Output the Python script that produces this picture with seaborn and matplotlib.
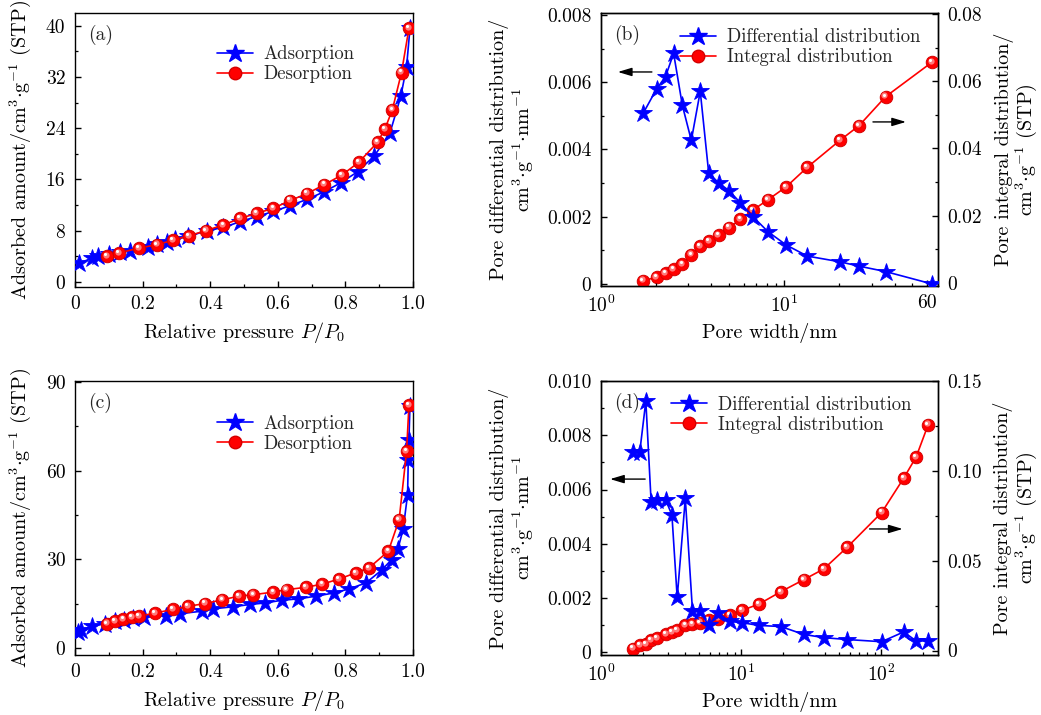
import matplotlib
matplotlib.use("Agg")
import numpy as np
import pandas as pd
import matplotlib.pyplot as plt
import seaborn as sns
from matplotlib.lines import Line2D
from matplotlib.ticker import MultipleLocator, FixedLocator, NullFormatter
from matplotlib.transforms import offset_copy

# ---------------- data ----------------
# (a) N2 isotherm, sample 1
a_ads_p = [0.013, 0.049, 0.069, 0.100, 0.133, 0.163, 0.217, 0.244, 0.271, 0.296,
           0.335, 0.390, 0.439, 0.488, 0.537, 0.587, 0.636, 0.687, 0.738, 0.787,
           0.836, 0.886, 0.932, 0.964, 0.981, 0.991]
a_ads_v = [2.9, 3.7, 4.1, 4.4, 4.6, 4.9, 5.5, 5.9, 6.3, 6.7,
           7.1, 8.0, 8.5, 9.4, 10.2, 11.0, 11.9, 12.9, 14.1, 15.5,
           17.2, 19.7, 23.3, 29.0, 33.6, 39.6]
a_des_p = [0.094, 0.130, 0.190, 0.242, 0.289, 0.337, 0.387, 0.439, 0.488, 0.537,
           0.587, 0.636, 0.687, 0.738, 0.790, 0.840, 0.895, 0.917, 0.939, 0.966, 0.988]
a_des_v = [4.0, 4.5, 5.3, 5.8, 6.5, 7.2, 8.0, 8.9, 9.9, 10.7,
           11.5, 12.7, 13.8, 15.2, 16.7, 18.7, 21.8, 23.9, 26.9, 32.7, 39.6]

# (c) N2 isotherm, sample 2
c_ads_p = [0.010, 0.017, 0.051, 0.089, 0.118, 0.146, 0.171, 0.205, 0.269, 0.311,
           0.375, 0.407, 0.466, 0.518, 0.562, 0.611, 0.661, 0.713, 0.766, 0.812,
           0.861, 0.907, 0.937, 0.955, 0.971, 0.984, 0.986, 0.988, 0.991]
c_ads_v = [5.3, 6.0, 7.3, 8.2, 9.0, 9.6, 10.1, 10.4, 10.9, 11.6,
           12.4, 13.2, 13.9, 14.7, 15.2, 16.1, 16.6, 17.5, 18.6, 20.0,
           22.0, 26.3, 29.9, 33.3, 40.2, 51.9, 63.7, 70.5, 81.7]
c_des_p = [0.094, 0.118, 0.143, 0.168, 0.189, 0.237, 0.289, 0.335, 0.385, 0.436,
           0.485, 0.528, 0.587, 0.626, 0.683, 0.732, 0.781, 0.831, 0.870, 0.927,
           0.959, 0.981, 0.988]
c_des_v = [8.2, 9.0, 9.8, 10.4, 10.7, 11.8, 13.0, 14.1, 15.0, 16.3,
           17.5, 18.0, 18.9, 19.7, 20.5, 21.6, 23.3, 25.4, 27.1, 32.7,
           43.4, 66.5, 82.1]

# (b) pore size distribution, sample 1
b_width = [1.70, 2.01, 2.25, 2.49, 2.78, 3.11, 3.48, 3.87, 4.38, 5.01,
           5.77, 6.75, 8.17, 10.25, 13.35, 20.1, 25.6, 35.7, 64.1]
b_diff = [0.00508, 0.00580, 0.00617, 0.00686, 0.00531, 0.00427, 0.00573, 0.00330,
          0.00301, 0.00277, 0.00241, 0.00200, 0.00155, 0.00116, 0.00083, 0.00066,
          0.00053, 0.00037, 0.00000]
b_int = [0.0007, 0.0017, 0.0029, 0.0041, 0.0056, 0.0084, 0.0110, 0.0125, 0.0142,
         0.0165, 0.0189, 0.0217, 0.0248, 0.0286, 0.0344, 0.0424, 0.0468, 0.0554, 0.0657]

# (d) pore size distribution, sample 2
d_width = [1.69, 1.89, 2.09, 2.28, 2.51, 2.90, 3.21, 3.50, 4.00, 4.50,
           5.10, 5.86, 6.86, 8.30, 10.2, 13.4, 19.2, 28.0, 39.0, 57.3,
           101.0, 145.0, 178.0, 217.0]
d_diff = [0.00737, 0.00737, 0.00926, 0.00555, 0.00561, 0.00561, 0.00506, 0.00202,
          0.00567, 0.00154, 0.00151, 0.00099, 0.00144, 0.00114, 0.00109, 0.00099,
          0.00095, 0.00066, 0.00054, 0.00047, 0.00039, 0.00075, 0.00042, 0.00042]
d_int = [0.0011, 0.0028, 0.0037, 0.0056, 0.0071, 0.0090, 0.0103, 0.0112, 0.0140,
         0.0146, 0.0155, 0.0168, 0.0178, 0.0198, 0.0224, 0.0258, 0.0327, 0.0394,
         0.0454, 0.0575, 0.0768, 0.0959, 0.1077, 0.1257]

# ---------------- style ----------------
sns.set_theme(style="ticks")
plt.rcParams.update({
    "font.family": ["cmr10", "DejaVu Serif"],
    "mathtext.fontset": "cm",
    "axes.formatter.use_mathtext": True,
    "font.size": 14,
    "axes.linewidth": 1.0,
    "axes.edgecolor": "black",
    "axes.labelcolor": "black",
    "xtick.color": "black",
    "ytick.color": "black",
    "xtick.direction": "in",
    "ytick.direction": "in",
    "xtick.major.size": 4,
    "ytick.major.size": 4,
    "xtick.minor.size": 2.5,
    "ytick.minor.size": 2.5,
    "xtick.major.width": 1.0,
    "ytick.major.width": 1.0,
    "xtick.minor.width": 0.9,
    "ytick.minor.width": 0.9,
    "xtick.major.pad": 6,
    "ytick.major.pad": 7,
    "xtick.labelsize": 14,
    "ytick.labelsize": 14,
    "axes.labelsize": 14.5,
    "legend.fontsize": 13.5,
})

BLUE = "#0000ff"
RED = "#ff0000"

fig = plt.figure(figsize=(10.41, 7.15), dpi=100)
W, H = 1041, 715


def add_axes(left, top, right, bottom):
    return fig.add_axes([left / W, 1 - bottom / H, (right - left) / W, (bottom - top) / H])


def star_line(ax, x, y, label):
    sns.lineplot(x=x, y=y, ax=ax, color=BLUE, marker="*", markersize=13.5,
                 markeredgecolor=BLUE, markeredgewidth=0.6, linewidth=1.2,
                 sort=False, estimator=None, label=label, legend=False, zorder=3)


def ball_line(ax, x, y, label):
    sns.lineplot(x=x, y=y, ax=ax, color=RED, marker="o", markersize=9,
                 markeredgecolor="#d40000", markeredgewidth=0.7, linewidth=1.2,
                 sort=False, estimator=None, label=label, legend=False, zorder=4)
    # shiny highlight on each ball
    t1 = offset_copy(ax.transData, fig=fig, x=-0.8, y=0.9, units="points")
    t2 = offset_copy(ax.transData, fig=fig, x=-1.3, y=1.5, units="points")
    ax.plot(x, y, linestyle="none", marker="o", markersize=4.5, color="#ff7a7a",
            markeredgewidth=0, transform=t1, zorder=5)
    ax.plot(x, y, linestyle="none", marker="o", markersize=2.2, color="#ffffff",
            markeredgewidth=0, transform=t2, zorder=6)


def legend_handles():
    return [
        Line2D([], [], color=BLUE, marker="*", markersize=13.5, lw=1.2),
        Line2D([], [], color=RED, marker="o", markersize=9, markeredgecolor="#d40000", lw=1.2),
    ]


def isotherm_panel(ax, ads_p, ads_v, des_p, des_v, tag, ymax, ystep, yminor, ylim, leg_anchor):
    star_line(ax, ads_p, ads_v, "Adsorption")
    ball_line(ax, des_p, des_v, "Desorption")
    ax.set_xlim(0, 1.0)
    ax.set_ylim(*ylim)
    ax.xaxis.set_major_locator(FixedLocator([0, 0.2, 0.4, 0.6, 0.8, 1.0]))
    ax.set_xticklabels(["0", "0.2", "0.4", "0.6", "0.8", "1.0"])
    ax.xaxis.set_minor_locator(MultipleLocator(0.1))
    yt = list(range(0, ymax + 1, ystep))
    ax.yaxis.set_major_locator(FixedLocator(yt))
    ax.set_yticklabels([str(v) for v in yt])
    ax.yaxis.set_minor_locator(MultipleLocator(yminor))
    ax.set_xlabel(r"Relative pressure $P/P_0$", labelpad=5)
    ax.set_ylabel(r"Adsorbed amount/cm$^{3}$$\cdot$g$^{-1}$ (STP)", labelpad=9)
    ax.text(0.04, 0.92, tag, transform=ax.transAxes, ha="left", va="center", fontsize=14)
    ax.legend(legend_handles(), ["Adsorption", "Desorption"], frameon=False,
              loc="upper left", bbox_to_anchor=leg_anchor, handlelength=1.9,
              handletextpad=0.6, labelspacing=0.1, borderaxespad=0, borderpad=0)


def psd_panel(ax, width, diff, integ, tag, xlim, xticks, xlabels,
              ylim_l, yt_l, yl_labels, yminor_l, ylim_r, yt_r, yr_labels, yminor_r,
              larrow, rarrow, leg_anchor):
    ax2 = ax.twinx()
    ax.set_xscale("log")
    star_line(ax, width, diff, "Differential distribution")
    ball_line(ax2, width, integ, "Integral distribution")
    ax.set_xlim(*xlim)
    ax.xaxis.set_major_locator(FixedLocator(xticks))
    ax.set_xticklabels(xlabels)
    minors = [m * 10 ** k for k in range(0, 3) for m in range(2, 10)]
    ax.xaxis.set_minor_locator(FixedLocator([v for v in minors if xlim[0] < v < xlim[1]]))
    ax.xaxis.set_minor_formatter(NullFormatter())
    ax.set_ylim(*ylim_l)
    ax.yaxis.set_major_locator(FixedLocator(yt_l))
    ax.set_yticklabels(yl_labels)
    ax.yaxis.set_minor_locator(MultipleLocator(yminor_l))
    ax2.set_ylim(*ylim_r)
    ax2.yaxis.set_major_locator(FixedLocator(yt_r))
    ax2.set_yticklabels(yr_labels)
    ax2.yaxis.set_minor_locator(MultipleLocator(yminor_r))
    ax2.tick_params(axis="y", which="both", direction="in")
    ax.tick_params(axis="y", which="both", right=False)
    ax.set_xlabel("Pore width/nm", labelpad=5)
    ax.set_ylabel("Pore differential distribution/\n"
                  r"cm$^{3}$$\cdot$g$^{-1}$$\cdot$nm$^{-1}$", labelpad=8, linespacing=1.05)
    ax2.set_ylabel("Pore integral distribution/\n"
                   r"cm$^{3}$$\cdot$g$^{-1}$ (STP)", rotation=90, labelpad=8,
                   linespacing=1.0)
    ax.text(0.04, 0.92, tag, transform=ax.transAxes, ha="left", va="center", fontsize=14)
    arrow = dict(arrowstyle="-|>,head_length=0.6,head_width=0.18", color="black", lw=1.0,
                 shrinkA=0, shrinkB=0)
    ax.annotate("", xy=(larrow[1], larrow[2]), xytext=(larrow[0], larrow[2]),
                xycoords="axes fraction", arrowprops=arrow)
    ax.annotate("", xy=(rarrow[1], rarrow[2]), xytext=(rarrow[0], rarrow[2]),
                xycoords="axes fraction", arrowprops=arrow)
    ax2.legend(legend_handles(), ["Differential distribution", "Integral distribution"],
               frameon=False, loc="upper left", bbox_to_anchor=leg_anchor,
               handlelength=1.9, handletextpad=0.6, labelspacing=0.1,
               borderaxespad=0, borderpad=0)
    ax.set_zorder(ax2.get_zorder() + 1)
    ax.patch.set_visible(False)
    return ax2


ax_a = add_axes(75, 13, 413, 287)
ax_b = add_axes(601, 13, 938, 286)
ax_c = add_axes(75, 381, 413, 655)
ax_d = add_axes(601, 381, 938, 655)

isotherm_panel(ax_a, a_ads_p, a_ads_v, a_des_p, a_des_v, "(a)", 40, 8, 4,
               (-0.8, 42.0), (0.42, 0.882))
isotherm_panel(ax_c, c_ads_p, c_ads_v, c_des_p, c_des_v, "(c)", 90, 30, 15,
               (-2.4, 90.3), (0.42, 0.876))

psd_panel(ax_b, b_width, b_diff, b_int, "(b)", (1, 69), [1, 10, 60],
          [r"$10^0$", r"$10^1$", "60"],
          (-0.00006, 0.00806), [0, 0.002, 0.004, 0.006, 0.008],
          ["0", "0.002", "0.004", "0.006", "0.008"], 0.001,
          (-0.0009, 0.0803), [0, 0.02, 0.04, 0.06, 0.08],
          ["0", "0.02", "0.04", "0.06", "0.08"], 0.01,
          (0.151, 0.05, 0.784), (0.807, 0.905, 0.601), (0.235, 0.943))

psd_panel(ax_d, d_width, d_diff, d_int, "(d)", (1, 255), [1, 10, 100],
          [r"$10^0$", r"$10^1$", r"$10^2$"],
          (-0.0001, 0.0100), [0, 0.002, 0.004, 0.006, 0.008, 0.010],
          ["0", "0.002", "0.004", "0.006", "0.008", "0.010"], 0.001,
          (-0.0025, 0.150), [0, 0.05, 0.10, 0.15],
          ["0", "0.05", "0.10", "0.15"], 0.025,
          (0.131, 0.027, 0.642), (0.797, 0.895, 0.46), (0.208, 0.945))

fig.savefig("out.png", dpi=100, facecolor="white")
